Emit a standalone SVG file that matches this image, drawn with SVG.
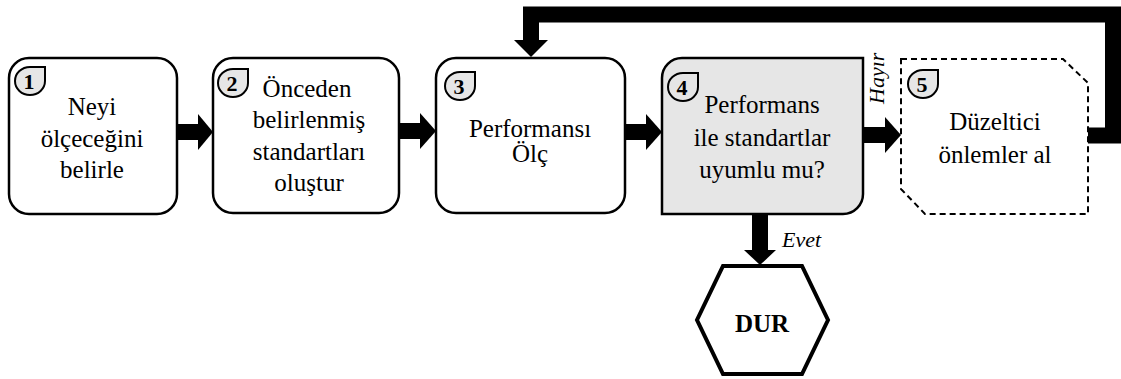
<svg xmlns="http://www.w3.org/2000/svg" xmlns:xlink="http://www.w3.org/1999/xlink" width="1121" height="379" viewBox="0 0 1121 379" font-family="Liberation Serif, DejaVu Serif, serif">
  <style>
    .box { fill: #ffffff; stroke: #000000; stroke-width: 2.5; }
    .decision { fill: #e6e6e6; stroke: #000000; stroke-width: 2.5; }
    .dashed { fill: #ffffff; stroke: #000000; stroke-width: 2; stroke-dasharray: 6 4; }
    .stop { fill: #ffffff; stroke: #000000; stroke-width: 4; stroke-linejoin: miter; }
    .badge { fill: #e6e6e6; stroke: #000000; stroke-width: 2; }
    .num { font-weight: bold; font-size: 22px; text-anchor: middle; fill: #000000; }
    .label { font-size: 25px; text-anchor: middle; fill: #000000; }
    .edge { font-style: italic; font-size: 22px; fill: #000000; }
    .shaft { fill: none; stroke: #000000; stroke-width: 16; stroke-linejoin: miter; }
    .head { fill: #000000; }
  </style>
  <defs>
    <!-- step number badge: rounded drop with a square top-right corner -->
    <path id="badge" class="badge" d="M15,28 A15,14 0 0 1 0,14 A15,14 0 0 1 15,0 L30,0 L30,14 A15,14 0 0 1 15,28 Z"/>
  </defs>

  <!-- connectors -->
  <g id="connectors">
    <!-- 1 -> 2 -->
    <line class="shaft" x1="177" y1="132" x2="199" y2="132"/>
    <polygon class="head" points="198,114 213,132 198,150"/>
    <!-- 2 -> 3 -->
    <line class="shaft" x1="399" y1="131" x2="421" y2="131"/>
    <polygon class="head" points="420,113 436,131 420,149"/>
    <!-- 3 -> 4 -->
    <line class="shaft" x1="625" y1="132" x2="647" y2="132"/>
    <polygon class="head" points="646,114 662,132 646,150"/>
    <!-- 4 -> 5 (Hayır) -->
    <line class="shaft" x1="863" y1="135" x2="886" y2="135"/>
    <polygon class="head" points="885,117 901,135 885,153"/>
    <!-- feedback loop 5 -> 3 -->
    <polyline class="shaft" stroke-width="15" points="1088,135.5 1113,135.5 1113,14.5 531,14.5 531,41"/>
    <polygon class="head" points="514,40 548,40 531,57"/>
    <!-- 4 -> DUR (Evet) -->
    <line class="shaft" stroke-width="15" x1="760" y1="214" x2="760" y2="251"/>
    <polygon class="head" points="744,250 776,250 760,265"/>
    <text class="edge" x="782" y="247">Evet</text>
    <text class="edge" transform="translate(884,104) rotate(-90)">Hayır</text>
  </g>

  <!-- step 1 -->
  <g id="node1">
    <rect class="box" x="9" y="58" width="168" height="156" rx="20" ry="20"/>
    <use xlink:href="#badge" href="#badge" transform="translate(15,67)"/>
    <text class="num" x="29" y="89">1</text>
    <text class="label" x="92" y="115">Neyi</text>
    <text class="label" x="92" y="147">ölçeceğini</text>
    <text class="label" x="92" y="178">belirle</text>
  </g>

  <!-- step 2 -->
  <g id="node2">
    <rect class="box" x="213" y="58" width="186" height="155" rx="20" ry="20"/>
    <use xlink:href="#badge" href="#badge" transform="translate(218,69)"/>
    <text class="num" x="232" y="91">2</text>
    <text class="label" x="307" y="97">Önceden</text>
    <text class="label" x="309" y="128">belirlenmiş</text>
    <text class="label" x="309" y="160">standartları</text>
    <text class="label" x="309" y="191">oluştur</text>
  </g>

  <!-- step 3 -->
  <g id="node3">
    <rect class="box" x="436" y="58" width="189" height="155" rx="20" ry="20"/>
    <use xlink:href="#badge" href="#badge" transform="translate(445,72)"/>
    <text class="num" x="459" y="94">3</text>
    <text class="label" x="530" y="137">Performansı</text>
    <text class="label" x="530" y="162">Ölç</text>
  </g>

  <!-- step 4: decision -->
  <g id="node4">
    <path class="decision" d="M662,78 A20,20 0 0 1 682,58 L863,58 L863,194 A20,20 0 0 1 843,214 L662,214 Z"/>
    <use xlink:href="#badge" href="#badge" transform="translate(668,73)"/>
    <text class="num" x="682" y="95">4</text>
    <text class="label" x="762" y="113">Performans</text>
    <text class="label" x="762" y="146">ile standartlar</text>
    <text class="label" x="762" y="178">uyumlu mu?</text>
  </g>

  <!-- step 5: corrective action -->
  <g id="node5">
    <path class="dashed" d="M901,59 L1063,59 L1088,83 L1088,214 L925,214 L901,189 Z"/>
    <use xlink:href="#badge" href="#badge" transform="translate(908,70)"/>
    <text class="num" x="922" y="92">5</text>
    <text class="label" x="995" y="130">Düzeltici</text>
    <text class="label" x="995" y="163">önlemler al</text>
  </g>

  <!-- stop -->
  <g id="stop">
    <polygon class="stop" points="723,266 802,266 828,320 802,374 723,374 697,320"/>
    <text class="label" x="762" y="332" font-weight="bold" font-size="26">DUR</text>
  </g>
</svg>
